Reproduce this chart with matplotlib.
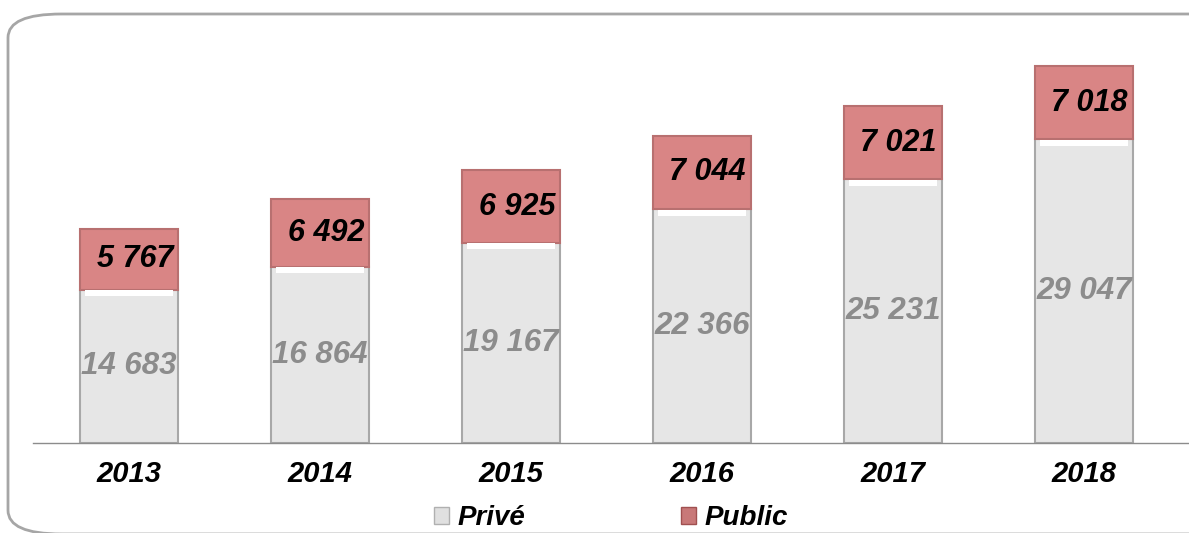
import matplotlib.pyplot as plt
from matplotlib.patches import FancyBboxPatch, Patch
import numpy as np

years = ["2013", "2014", "2015", "2016", "2017", "2018"]
prive = [14683, 16864, 19167, 22366, 25231, 29047]
public = [5767, 6492, 6925, 7044, 7021, 7018]


def fmt(v):
    return f"{v:,}".replace(",", " ")


fig = plt.figure(figsize=(11.89, 5.33), dpi=100)

# rounded frame around the chart
frame = FancyBboxPatch((8 / 1189, -1 / 533), 1.2, (533 - 13) / 533,
                       boxstyle="round,pad=0,rounding_size=0.045",
                       transform=fig.transFigure, fill=False,
                       edgecolor="#a6a6a6", lw=2, mutation_aspect=533 / 1189 * 2.2)
fig.patches.append(frame)

ax = fig.add_axes([33 / 1189, 90 / 533, (1189 - 33) / 1189, 418 / 533])
x = np.arange(len(years))
w = 0.515

ax.bar(x, prive, w, color="#e6e6e6", edgecolor="#a8a8a8", lw=1.5, zorder=2)
ax.bar(x, public, w, bottom=prive, color="#d98585", edgecolor="#b87070", lw=1.5, zorder=2)
# light highlight at the top of the grey segments
hl = 550
ax.bar(x, [hl] * len(x), w * 0.9, bottom=np.array(prive) - hl - 60,
       color="white", lw=0, zorder=3)

for i in range(len(years)):
    ax.text(x[i], prive[i] / 2, fmt(prive[i]), ha="center", va="center",
            fontsize=22.5, fontweight="bold", fontstyle="italic", color="#8c8c8c",
            family="Liberation Sans", zorder=4)
    ax.text(x[i] + 0.03, prive[i] + public[i] / 2, fmt(public[i]), ha="center",
            va="center", fontsize=22, fontweight="bold", fontstyle="italic",
            color="black", family="Liberation Sans", zorder=4)

ax.set_xlim(-0.503, 5.55)
ax.set_ylim(0, 40000)
ax.set_yticks([])
ax.set_xticks(x)
ax.set_xticklabels(years, fontsize=21, fontweight="bold", fontstyle="italic",
                   family="Liberation Sans")
ax.tick_params(axis="x", length=0, pad=12)
for s in ["top", "right", "left"]:
    ax.spines[s].set_visible(False)
ax.spines["bottom"].set_color("#8c8c8c")
ax.spines["bottom"].set_linewidth(1)

handles = [Patch(facecolor="#e0e0e0", edgecolor="#b0b0b0", label="Privé"),
           Patch(facecolor="#c87878", edgecolor="#a05050", label="Public")]
fig.legend(handles=handles, loc="center", bbox_to_anchor=(611 / 1189, 15 / 533),
           ncol=2, frameon=False, handlelength=0.55, handleheight=0.55,
           handletextpad=0.3, columnspacing=5.6,
           prop={"family": "Liberation Sans", "weight": "bold", "style": "italic", "size": 20})

fig.savefig("out.png", dpi=100)
